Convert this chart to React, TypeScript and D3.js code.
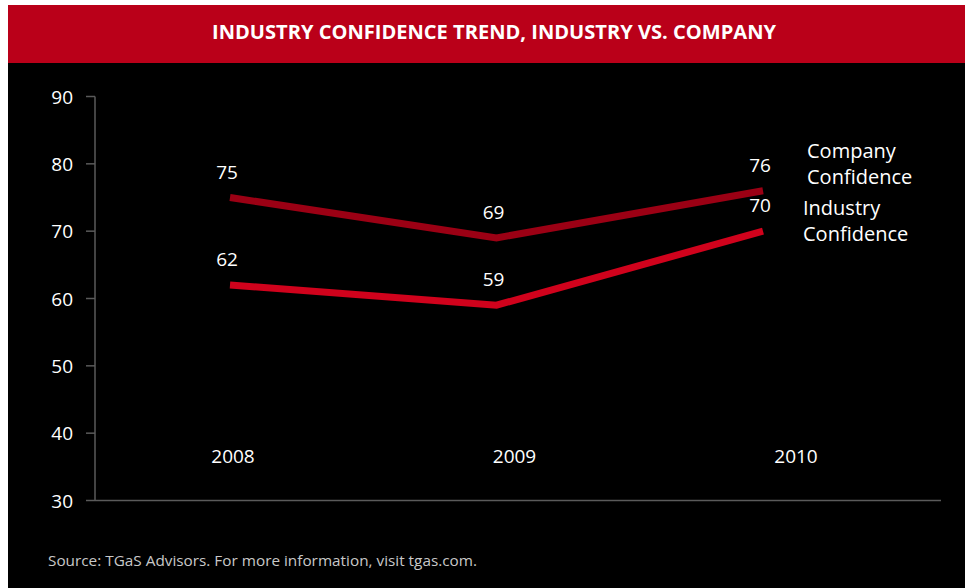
import React from "react";
import * as d3 from "d3";

const years = ["2008", "2009", "2010"];
const companyConfidence = [75, 69, 76];
const industryConfidence = [62, 59, 70];
const yTicks = [30, 40, 50, 60, 70, 80, 90];
const seriesNames = [
  ["Company", "Confidence"],
  ["Industry", "Confidence"],
];
const title = "INDUSTRY CONFIDENCE TREND, INDUSTRY VS. COMPANY";
const source = "Source: TGaS Advisors. For more information, visit tgas.com.";

const W = 965;
const H = 588;
const FONT = "'Open Sans', 'Noto Sans', sans-serif";

export default function App() {
  const y = d3.scaleLinear().domain([30, 90]).range([500.5, 96.5]);
  const x = d3.scalePoint<string>().domain(years).range([230, 763]);
  const xLabel = d3.scalePoint<string>().domain(years).range([233, 796]);
  const axisLeft = 95;
  const axisRight = 941;

  const line = d3
    .line<number>()
    .x((_, i) => x(years[i]) as number)
    .y((d) => y(d));

  const series = [
    { values: companyConfidence, color: "#9b0014", names: seriesNames[0], lx: 44, ly: -33 },
    { values: industryConfidence, color: "#d0021c", names: seriesNames[1], lx: 40, ly: -16 },
  ];

  return (
    <svg
      width={W}
      height={H}
      style={{ position: "absolute", left: 0, top: 0, display: "block" }}
    >
      <rect x={0} y={0} width={W} height={H} fill="#ffffff" />
      <rect x={8} y={5} width={W - 8} height={58} fill="#ba0019" />
      <rect x={8} y={63} width={W - 8} height={H - 63} fill="#000000" />
      <text
        x={494}
        y={39}
        textAnchor="middle"
        fill="#ffffff"
        fontFamily={FONT}
        fontWeight={700}
        fontSize={19}
        textLength={564}
        lengthAdjust="spacingAndGlyphs"
      >
        {title}
      </text>

      {/* y axis */}
      <line x1={axisLeft} x2={axisLeft} y1={y(90)} y2={y(30)} stroke="#5a5a5a" strokeWidth={1.5} />
      <line x1={axisLeft} x2={axisRight} y1={y(30)} y2={y(30)} stroke="#5a5a5a" strokeWidth={1.5} />
      {yTicks.map((t) => (
        <g key={t}>
          <line x1={86} x2={axisLeft} y1={y(t)} y2={y(t)} stroke="#5a5a5a" strokeWidth={1.5} />
          <text
            x={73}
            y={y(t) + 7}
            textAnchor="end"
            fill="#ffffff"
            fontFamily={FONT}
            fontSize={19}
          >
            {t}
          </text>
        </g>
      ))}

      {years.map((yr) => (
        <text
          key={yr}
          x={xLabel(yr)}
          y={463}
          textAnchor="middle"
          fill="#ffffff"
          fontFamily={FONT}
          fontSize={19}
        >
          {yr}
        </text>
      ))}

      {series.map((s, si) => (
        <g key={si}>
          <path
            d={line(s.values) || ""}
            fill="none"
            stroke={s.color}
            strokeWidth={7}
            strokeLinejoin="miter"
            strokeLinecap="butt"
          />
          {s.values.map((v, i) => (
            <text
              key={i}
              x={(x(years[i]) as number) - 3}
              y={y(v) - 19}
              textAnchor="middle"
              fill="#ffffff"
              fontFamily={FONT}
              fontSize={19}
            >
              {v}
            </text>
          ))}
          <text
            x={(x(years[years.length - 1]) as number) + s.lx}
            y={y(s.values[s.values.length - 1]) + s.ly}
            fill="#ffffff"
            fontFamily={FONT}
            fontSize={20}
          >
            <tspan>{s.names[0]}</tspan>
            <tspan x={(x(years[years.length - 1]) as number) + s.lx} dy={26}>
              {s.names[1]}
            </tspan>
          </text>
        </g>
      ))}

      <text
        x={48}
        y={566}
        fill="#c8c8c8"
        fontFamily={FONT}
        fontSize={15}
        textLength={429}
        lengthAdjust="spacingAndGlyphs"
      >
        {source}
      </text>
    </svg>
  );
}
